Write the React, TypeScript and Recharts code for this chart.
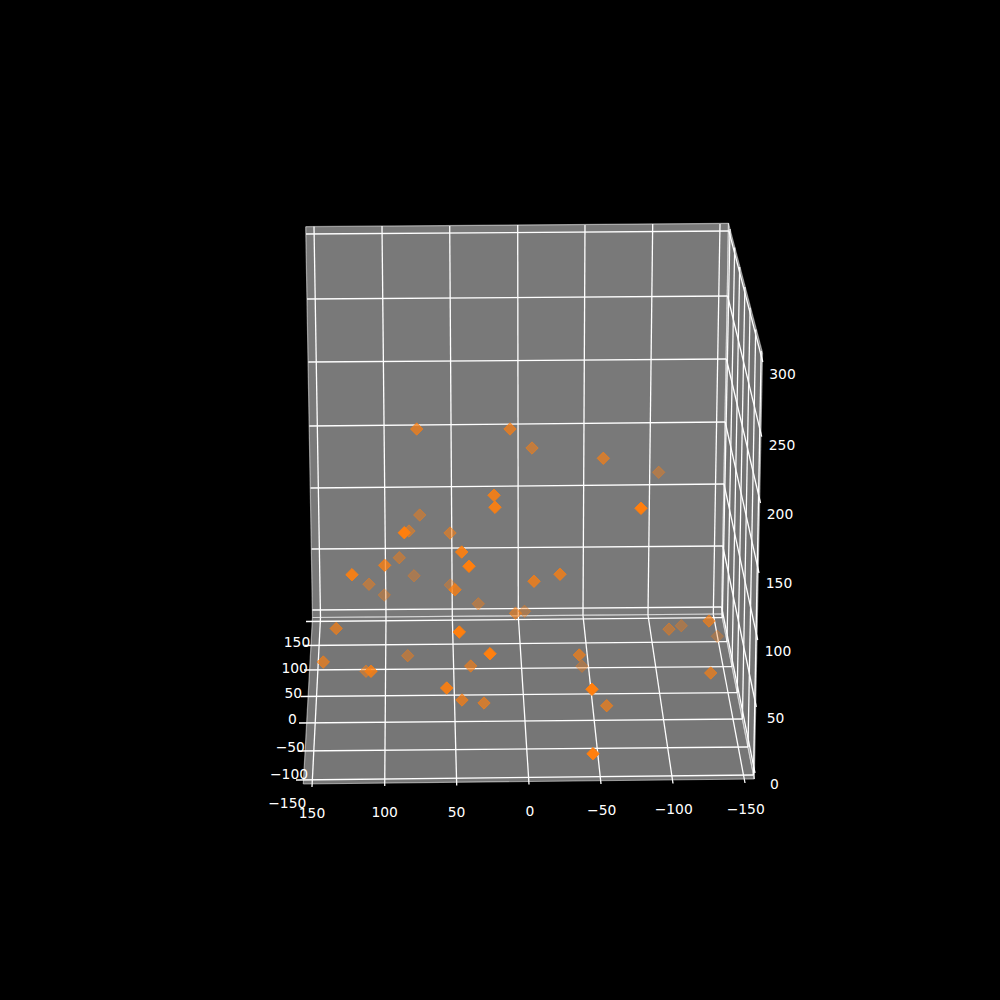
import React from 'react';
import { ScatterChart, Scatter, XAxis, YAxis, ReferenceLine, ReferenceArea } from 'recharts';

const backPane = [[305.7, 226.7], [728.5, 223.3], [721.6, 614], [312.5, 617.5]];
const sidePane = [[728.5, 223.3], [762.5, 353], [754.3, 779], [721.6, 614]];
const floorPane = [[312.5, 617.5], [721.6, 614], [754.3, 779], [303.3, 784]];

const backVerticals = [
  [314, 226.5, 320.5, 617.5], [382, 226, 386, 617], [449.7, 226, 452.3, 616.5], [517.7, 225, 518.3, 616],
  [585, 225, 583, 615.5], [652.7, 224, 648, 615], [720, 224, 713.3, 614.5],
];
const backHorizontals = [
  [306, 234, 728.9, 231], [307, 299, 727.6, 296], [308.3, 362, 726.4, 359], [309.3, 426, 725.2, 422],
  [310.5, 488, 724, 484], [311.5, 549, 722.8, 546], [312.3, 610, 721.6, 607],
];
const sideVerticals = [
  [730, 229, 722.3, 617.7], [734.7, 247.5, 727, 641.7], [739.7, 267, 732, 666.7], [744.9, 287, 737.2, 692.7],
  [750.1, 307.7, 742.4, 719], [755.7, 329.5, 748, 747], [761.2, 351, 753.5, 775],
];
const sideHorizontals = [
  [728.9, 231, 762.8, 362], [727.6, 296, 761.7, 436.7], [726.4, 359, 760.5, 503], [725.2, 422, 759, 573],
  [724, 484, 757.7, 640], [722.8, 546, 756.3, 707], [721.6, 607, 755, 773],
];
const floorDepth = [
  [320.5, 617.5, 312, 787], [386, 617, 384.7, 786], [452.3, 616.5, 456.7, 785.5], [518.3, 616, 529, 784.5],
  [583, 615.5, 601, 784], [648, 615, 673, 783.5], [713.3, 614.5, 745, 783],
];
const floorAcross = [
  [306, 621.5, 722.3, 617.7], [304.5, 645.5, 727, 641.7], [304, 670, 732, 666.7], [300.7, 696.5, 737.2, 692.7],
  [299, 723, 742.4, 719], [297.7, 751, 748, 747], [296, 780, 753.5, 775],
];

const pointX = [
  416.7, 510, 532, 494, 495, 419.7, 409, 404.3, 450, 461.7, 469, 399.3, 384.7, 352, 369, 414, 450.3, 455, 384.3, 478.3,
  515.5, 524.5, 534, 336.2, 459.3, 603.3, 658.7, 641, 560, 709, 681.3, 669, 323.3, 366, 371, 407.7, 490, 470.7, 446.7,
  462, 484, 579.3, 582, 592, 606.7, 593, 717.3, 710.7,
];
const pointY = [
  429, 429, 448, 495.3, 507.3, 515, 531, 532.7, 533, 552, 566.3, 557.7, 565.3, 574.7, 584.3, 575.7, 585, 589.7, 595, 603.8,
  613.2, 611.3, 581.3, 628.5, 632, 458.3, 472.3, 508.3, 574.3, 621, 625.7, 629.2, 662, 671.3, 671.3, 655.7, 653.7, 666, 688,
  700, 703, 655, 666.3, 689.3, 705.7, 753.7, 636.3, 673,
];
const pointAlpha = [
  0.7, 0.7, 0.55, 0.85, 0.9, 0.45, 0.5, 1, 0.55, 0.9, 1, 0.45, 0.75, 0.9, 0.45, 0.35, 0.35, 0.75, 0.35, 0.4,
  0.55, 0.35, 0.75, 0.65, 1, 0.65, 0.4, 1, 0.75, 0.65, 0.35, 0.45, 0.65, 0.5, 0.8, 0.45, 1, 0.6, 0.9,
  0.7, 0.65, 0.65, 0.35, 1, 0.65, 1, 0.3, 0.65,
];

const xTickLabels = ['150', '100', '50', '0', '\u221250', '\u2212100', '\u2212150'];
const xTickX = [312, 384.7, 456.5, 530, 601.7, 673.7, 745.7];
const xTickY = [813, 812, 812, 811, 810, 809.3, 809];
const yTickLabels = ['150', '100', '50', '0', '\u221250', '\u2212100', '\u2212150'];
const yTickX = [297, 294.7, 293.3, 292.3, 290.3, 289, 287.3];
const yTickY = [642.3, 667.7, 692.7, 719.3, 746.7, 774, 803.3];
const zTickLabels = ['300', '250', '200', '150', '100', '50', '0'];
const zTickX = [782.5, 782, 780, 779, 778, 775.5, 774.3];
const zTickY = [374, 445, 514, 583, 651, 718, 784.3];

const points = pointX.map((x, i) => ({ x, y: pointY[i], alpha: pointAlpha[i] }));
const tickText = [
  ...xTickLabels.map((label, i) => ({ x: xTickX[i], y: xTickY[i], label })),
  ...yTickLabels.map((label, i) => ({ x: yTickX[i], y: yTickY[i], label })),
  ...zTickLabels.map((label, i) => ({ x: zTickX[i], y: zTickY[i], label })),
];

const ring = (p: number[][]) => p.map((c, i) => {
  const n = p[(i + 1) % p.length];
  return [c[0], c[1], n[0], n[1]];
});
const edges = [...ring(backPane), ...ring(sidePane), ...ring(floorPane)];
const grid = [...backVerticals, ...backHorizontals, ...sideVerticals, ...sideHorizontals, ...floorDepth, ...floorAcross];

const Pane = ({ corners, fill, x, y, width, height }: any) => (
  <polygon
    points={corners.map((c: number[]) => `${x + (c[0] * width) / 1000},${y + (c[1] * height) / 1000}`).join(' ')}
    fill={fill}
  />
);

const Diamond = ({ cx, cy, payload }: any) => {
  const r = 6.2;
  return (
    <polygon
      points={`${cx},${cy - r} ${cx + r},${cy} ${cx},${cy + r} ${cx - r},${cy}`}
      fill="#ff7f0e"
      fillOpacity={payload.alpha}
      stroke="#ff7f0e"
      strokeOpacity={payload.alpha}
      strokeWidth={1}
    />
  );
};

const TickText = ({ cx, cy, payload }: any) => (
  <text
    x={cx}
    y={cy}
    fill="#ffffff"
    fontFamily="DejaVu Sans"
    fontSize={13.89}
    textAnchor="middle"
    dominantBaseline="central"
  >
    {payload.label}
  </text>
);

const paneArea = { x1: 0, x2: 1000, y1: 0, y2: 1000, ifOverflow: 'visible' as const, fillOpacity: 1 };

const seg = (l: number[]) => [{ x: l[0], y: l[1] }, { x: l[2], y: l[3] }] as any;

export default function App() {
  return (
    <div style={{ position: 'absolute', left: 0, top: 0, width: 1000, height: 1000, background: '#000000' }}>
      <ScatterChart width={1000} height={1000} margin={{ top: 0, right: 0, bottom: 0, left: 0 }}>
        <XAxis type="number" dataKey="x" domain={[0, 1000]} hide />
        <YAxis type="number" dataKey="y" domain={[0, 1000]} reversed hide />
        <ReferenceArea {...paneArea} shape={(p: any) => <Pane {...p} corners={backPane} fill="#797979" />} />
        <ReferenceArea {...paneArea} shape={(p: any) => <Pane {...p} corners={sidePane} fill="#737373" />} />
        <ReferenceArea {...paneArea} shape={(p: any) => <Pane {...p} corners={floorPane} fill="#767676" />} />
        {edges.map((l, i) => (
          <ReferenceLine key={`e${i}`} segment={seg(l)} stroke="#ffffff" strokeOpacity={0.5} strokeWidth={1.2} ifOverflow="visible" />
        ))}
        {grid.map((l, i) => (
          <ReferenceLine key={`g${i}`} segment={seg(l)} stroke="#ffffff" strokeOpacity={1} strokeWidth={1.3} ifOverflow="visible" />
        ))}
        <Scatter data={points} shape={Diamond} isAnimationActive={false} />
        <Scatter data={tickText} shape={TickText} isAnimationActive={false} />
      </ScatterChart>
    </div>
  );
}
